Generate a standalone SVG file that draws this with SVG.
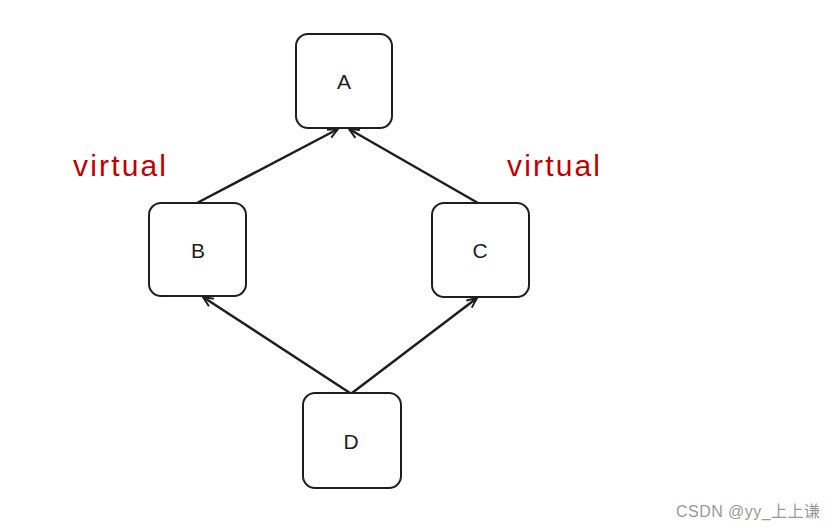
<svg xmlns="http://www.w3.org/2000/svg" width="835" height="530" viewBox="0 0 835 530">
<style>
.box{fill:#fff;stroke:#1e1e1e;stroke-width:2}
.lbl{font-family:"Liberation Sans",sans-serif;font-size:21px;fill:#1e1e1e;text-anchor:middle}
.edge{fill:none;stroke:#1e1e1e;stroke-width:2.5}
.virt{font-family:"Liberation Sans",sans-serif;font-size:30px;fill:#c00000}
.wm{font-family:"Liberation Sans","Noto Sans CJK SC",sans-serif;font-size:16px;fill:#999}
</style>
<defs>
<marker id="arr" viewBox="0 0 12 12" refX="11" refY="6" markerWidth="12" markerHeight="12" markerUnits="userSpaceOnUse" orient="auto">
<polyline points="1,1.5 11,6 1,10.5" fill="none" stroke="#1e1e1e" stroke-width="2"/>
</marker>
</defs>
<rect width="835" height="530" fill="#fff"/>
<g id="connectors">
<line class="edge" x1="197" y1="203" x2="338" y2="129" marker-end="url(#arr)"/>
<line class="edge" x1="478" y1="203" x2="349" y2="129" marker-end="url(#arr)"/>
<line class="edge" x1="350" y1="393" x2="203" y2="297" marker-end="url(#arr)"/>
<line class="edge" x1="352" y1="393" x2="477" y2="298" marker-end="url(#arr)"/>
</g>
<g id="A"><rect class="box" x="296" y="34" width="96" height="94" rx="12"/><text class="lbl" x="344" y="89">A</text></g>
<g id="B"><rect class="box" x="149" y="203" width="97" height="93" rx="12"/><text class="lbl" x="198" y="258">B</text></g>
<g id="C"><rect class="box" x="432" y="203" width="97" height="94" rx="12"/><text class="lbl" x="480" y="258">C</text></g>
<g id="D"><rect class="box" x="303" y="393" width="98" height="95" rx="12"/><text class="lbl" x="351" y="449">D</text></g>
<text class="virt" x="73" y="176" textLength="93" lengthAdjust="spacing">virtual</text>
<text class="virt" x="507" y="176" textLength="93" lengthAdjust="spacing">virtual</text>
<text class="wm" x="676" y="517" textLength="144" lengthAdjust="spacing">CSDN @yy_上上谦</text>
</svg>
